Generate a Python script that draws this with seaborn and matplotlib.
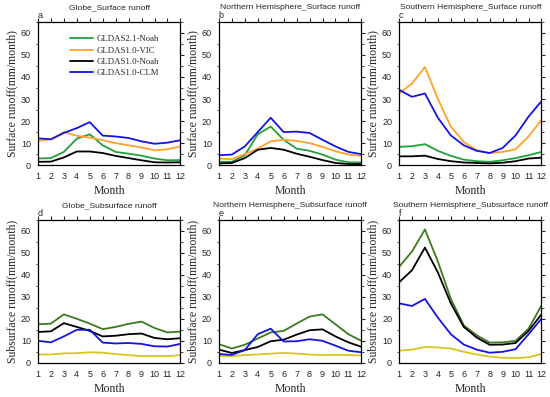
import matplotlib
matplotlib.use('Agg')

import seaborn as sns
import numpy
import pandas
import matplotlib.pyplot as plt
from matplotlib.ticker import MultipleLocator

months = list(range(1, 13))
models = ['GLDAS2.1-Noah', 'GLDAS1.0-VIC', 'GLDAS1.0-Noah', 'GLDAS1.0-CLM']

# surface runoff (mm/month)
globe_sr_noah21 = [3.0, 3.2, 6.0, 12.0, 14.0, 9.0, 6.0, 5.2, 4.3, 3.0, 2.2, 2.3]
globe_sr_vic = [11.0, 11.8, 15.0, 13.3, 12.5, 11.3, 10.0, 9.0, 8.0, 6.7, 7.2, 8.5]
globe_sr_noah10 = [1.5, 1.6, 3.5, 6.2, 6.2, 5.5, 4.2, 3.2, 2.2, 1.3, 1.2, 1.3]
globe_sr_clm = [12.2, 11.7, 14.6, 16.8, 19.5, 13.4, 13.0, 12.3, 10.8, 9.7, 10.2, 11.3]

nh_sr_noah21 = [1.5, 1.5, 4.5, 14.0, 17.5, 11.5, 7.5, 6.5, 4.8, 2.5, 1.3, 1.2]
nh_sr_vic = [3.0, 2.7, 5.0, 7.5, 10.8, 11.5, 11.0, 10.0, 8.3, 6.3, 4.8, 4.2]
nh_sr_noah10 = [0.8, 1.0, 3.2, 7.0, 7.8, 7.0, 5.2, 3.8, 2.3, 1.0, 0.5, 0.5]
nh_sr_clm = [4.5, 4.8, 8.5, 15.0, 21.5, 15.0, 15.2, 14.6, 11.5, 8.5, 6.0, 5.0]

sh_sr_noah21 = [8.3, 8.6, 9.5, 6.5, 4.2, 2.5, 1.8, 1.5, 2.2, 3.2, 4.5, 6.0]
sh_sr_vic = [32.5, 37.0, 44.5, 30.0, 17.5, 10.5, 6.8, 5.5, 6.0, 7.2, 13.0, 20.5]
sh_sr_noah10 = [4.0, 4.0, 4.3, 2.8, 1.8, 1.2, 1.0, 0.8, 1.1, 1.8, 3.0, 3.4]
sh_sr_clm = [34.2, 31.0, 32.5, 21.5, 13.5, 9.0, 6.5, 5.5, 7.8, 13.5, 22.0, 29.0]

# subsurface runoff (mm/month)
globe_ss_noah21 = [17.5, 17.8, 22.0, 20.0, 17.8, 15.3, 16.3, 17.7, 18.7, 15.8, 13.8, 14.2]
globe_ss_vic = [3.8, 3.8, 4.3, 4.4, 4.8, 4.6, 4.0, 3.5, 3.1, 3.1, 3.1, 3.5]
globe_ss_noah10 = [14.0, 14.3, 18.0, 16.3, 14.5, 12.0, 12.3, 13.0, 13.3, 11.3, 10.7, 11.2]
globe_ss_clm = [10.0, 9.3, 12.0, 15.0, 15.0, 9.2, 8.8, 9.0, 8.6, 7.5, 7.4, 8.6]

nh_ss_noah21 = [8.5, 6.5, 8.2, 11.0, 13.8, 14.5, 17.8, 21.0, 22.0, 17.5, 13.0, 10.0]
nh_ss_vic = [3.2, 3.0, 3.5, 3.8, 4.2, 4.5, 4.2, 3.8, 3.5, 3.6, 3.5, 3.4]
nh_ss_noah10 = [6.0, 4.5, 5.8, 7.2, 9.8, 10.5, 12.8, 14.8, 15.2, 12.0, 9.3, 7.3]
nh_ss_clm = [4.0, 3.6, 5.8, 13.0, 15.5, 9.7, 9.8, 10.7, 10.0, 7.8, 5.5, 4.8]

sh_ss_noah21 = [43.5, 50.5, 60.5, 46.0, 29.0, 17.0, 12.5, 9.2, 9.3, 10.0, 15.5, 26.0]
sh_ss_vic = [5.5, 6.0, 7.2, 7.0, 6.5, 5.0, 3.8, 2.8, 2.3, 2.2, 2.5, 4.0]
sh_ss_noah10 = [36.5, 42.0, 52.3, 41.0, 27.0, 16.3, 11.5, 8.2, 8.3, 9.0, 14.5, 22.0]
sh_ss_clm = [27.0, 25.8, 29.0, 20.5, 13.0, 8.3, 6.0, 4.6, 5.0, 6.2, 13.0, 20.0]

titles = ['Globe_Surface runoff', 'Northern Hemisphere_Surface runoff', 'Southern Hemisphere_Surface runoff',
          'Globe_Subsurface runoff', 'Northern Hemisphere_Subsurface runoff', 'Southern Hemisphere_Subsurface runoff']
letters = ['a', 'b', 'c', 'd', 'e', 'f']

panels = [
    [globe_sr_noah21, globe_sr_vic, globe_sr_noah10, globe_sr_clm],
    [nh_sr_noah21, nh_sr_vic, nh_sr_noah10, nh_sr_clm],
    [sh_sr_noah21, sh_sr_vic, sh_sr_noah10, sh_sr_clm],
    [globe_ss_noah21, globe_ss_vic, globe_ss_noah10, globe_ss_clm],
    [nh_ss_noah21, nh_ss_vic, nh_ss_noah10, nh_ss_clm],
    [sh_ss_noah21, sh_ss_vic, sh_ss_noah10, sh_ss_clm],
]

top_colors = ['#22a03a', '#ffa22a', '#000000', '#1414e0']
bottom_colors = ['#3c7a1c', '#d8c41c', '#000000', '#1414e0']

sns.set_theme(style='white')
plt.rcParams['font.family'] = ['Liberation Sans', 'DejaVu Sans']

SERIF = 'Liberation Serif'

fig = plt.figure(figsize=(5.5, 3.97), dpi=100)

lefts = [0.069, 0.398, 0.7255]
bottoms = [0.584, 0.086]
width = 0.259
height = 0.361

for i in range(6):
    row, col = divmod(i, 3)
    ax = fig.add_axes([lefts[col], bottoms[row], width, height])

    df = pandas.DataFrame({
        'Month': months * 4,
        'value': numpy.concatenate(panels[i]),
        'model': numpy.repeat(models, 12),
    })
    palette = top_colors if row == 0 else bottom_colors
    sns.lineplot(data=df, x='Month', y='value', hue='model', hue_order=models,
                 palette=palette, linewidth=1.3, ax=ax, legend=(i == 0))

    ax.set_xlim(1, 12)
    ax.set_ylim(0, 65)
    ax.set_xticks(months)
    ax.yaxis.set_major_locator(MultipleLocator(10))
    ax.yaxis.set_minor_locator(MultipleLocator(5))
    ax.set_yticks([0, 10, 20, 30, 40, 50, 60])

    ax.tick_params(axis='both', which='major', labelsize=6.5, length=3, width=0.8,
                   direction='out', top=True, right=True, pad=2)
    ax.tick_params(axis='y', which='minor', length=1.8, width=0.6, left=True, right=True, direction='out')
    for spine in ax.spines.values():
        spine.set_linewidth(0.9)
        spine.set_color('black')

    ax.set_xlabel('Month', family=SERIF, fontsize=8.5, labelpad=3)
    ylab = 'Surface runoff(mm/month)' if row == 0 else 'Subsurface runoff(mm/month)'
    ax.set_ylabel(ylab, family=SERIF, fontsize=8.5, labelpad=2)

    ax.set_title(titles[i], fontsize=6.1, pad=9)
    ax.text(0.0, 1.01, letters[i], transform=ax.transAxes, fontsize=6.5, ha='left', va='bottom')

    if i == 0:
        leg = ax.legend(loc='upper left', bbox_to_anchor=(0.2, 0.93), frameon=False,
                        prop={'family': SERIF, 'size': 6.3}, handlelength=2.6,
                        labelspacing=0.35, handletextpad=0.4, borderaxespad=0)
        for line in leg.get_lines():
            line.set_linewidth(1.3)

fig.savefig('out.png', dpi=100)
